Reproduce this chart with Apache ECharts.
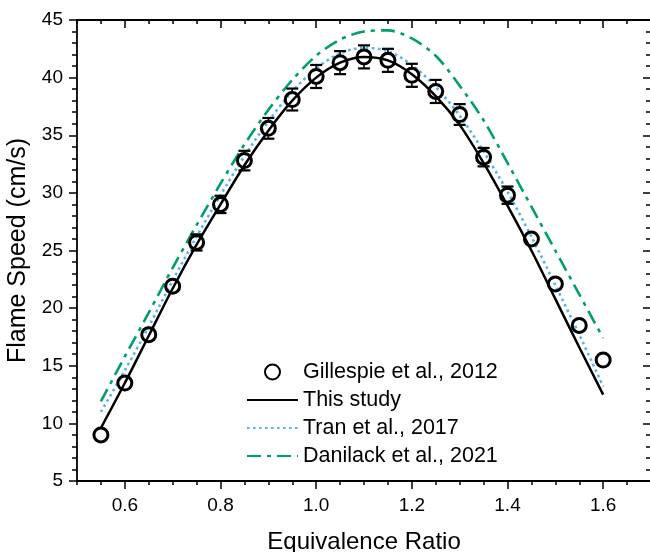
<!DOCTYPE html>
<html>
<head>
<meta charset="utf-8">
<script src="https://cdn.jsdelivr.net/npm/echarts@6/dist/echarts.min.js"></script>
<style>html,body{margin:0;padding:0;background:#fff}#c{width:650px;height:552px}</style>
</head>
<body>
<div id="c"></div>
<script>
// ---- data ----
const phi = [0.55,0.60,0.65,0.70,0.75,0.80,0.85,0.90,0.95,1.00,1.05,1.10,1.15,1.20,1.25,1.30,1.35,1.40,1.45,1.50,1.55,1.60];
const gillespie = [9.0,13.5,17.7,21.9,25.7,29.0,32.8,35.6,38.1,40.1,41.3,41.8,41.5,40.2,38.8,36.8,33.1,29.8,26.0,22.1,18.5,15.5];
const gillespieErr = [0.4,0.45,0.5,0.55,0.7,0.75,0.85,0.9,0.95,1.0,1.0,1.0,1.0,1.0,1.0,0.9,0.8,0.75,0.65,0.6,0.5,0.45];
const thisStudy = [9.6,13.5,17.6,21.7,25.5,29.0,32.4,35.4,38.0,40.0,41.3,41.8,41.5,40.3,38.4,35.9,32.6,28.9,25.0,20.8,16.6,12.5];
const tran = [11.0,14.6,18.4,22.4,26.2,29.8,33.2,36.2,38.8,40.8,42.1,42.6,42.3,41.1,39.2,36.7,33.6,30.1,26.2,22.0,17.7,13.2];
const danilack = [11.9,15.8,19.6,23.5,27.2,30.8,34.2,37.2,39.8,41.9,43.3,44.0,44.1,43.4,41.9,39.3,36.3,32.6,28.8,25.0,21.2,17.4];
const xMajorTicks = [0.6,0.8,1.0,1.2,1.4,1.6];
const seriesNames = ['Gillespie et al., 2012','This study','Tran et al., 2017','Danilack et al., 2021'];

const FONT = '"Liberation Sans", Arial, Helvetica, sans-serif';
const pair = ys => phi.map((x, i) => [x, ys[i]]);
const axLine = {show: true, lineStyle: {color: '#000', width: 1.8}};
const tickStyle = {color: '#000', width: 1.5};

function xAx(pos, major, withLine, inside) {
  const a = {
    type: 'value', position: pos, min: 0.5, max: 1.7,
    axisLine: withLine ? axLine : {show: false},
    splitLine: {show: false},
    axisLabel: {show: false},
    axisTick: {show: true, inside: inside, length: major ? 8 : 4, lineStyle: tickStyle}
  };
  if (major) { a.axisTick.customValues = xMajorTicks; }
  else { a.interval = 0.05; }
  return a;
}

const xb = xAx('bottom', false, true, false);
xb.axisLabel = {show: true, customValues: xMajorTicks, formatter: v => v.toFixed(1),
  fontSize: 19, color: '#000', fontFamily: FONT, margin: 15};
xb.name = 'Equivalence Ratio';
xb.nameLocation = 'middle';
xb.nameGap = 49;
xb.nameTextStyle = {fontSize: 24, color: '#000', fontFamily: FONT};

const hiddenDot = {color: 'rgba(0,0,0,0)', borderWidth: 0, opacity: 0};

const option = {
  animation: false,
  backgroundColor: '#fff',
  grid: {left: 77, top: 20, right: -1, bottom: 71, containLabel: false, outerBoundsMode: 'none'},
  xAxis: [xb, xAx('bottom', true, false, false), xAx('top', false, true, true), xAx('top', true, false, true)],
  yAxis: [
    {type: 'value', position: 'left', min: 5, max: 45, interval: 5,
     axisLine: axLine, splitLine: {show: false},
     axisTick: {show: true, inside: false, length: 8, lineStyle: tickStyle},
     minorTick: {show: true, splitNumber: 5, length: 5, lineStyle: tickStyle},
     axisLabel: {fontSize: 19, color: '#000', fontFamily: FONT, margin: 14},
     name: 'Flame Speed (cm/s)', nameLocation: 'middle', nameGap: 43, nameRotate: 90,
     nameTextStyle: {fontSize: 25, color: '#000', fontFamily: FONT}},
    {type: 'value', position: 'right', min: 5, max: 45, interval: 5,
     axisLine: axLine, splitLine: {show: false},
     axisTick: {show: true, inside: true, length: 8, lineStyle: tickStyle},
     minorTick: {show: true, splitNumber: 5, length: 5, lineStyle: tickStyle},
     axisLabel: {show: false}}
  ],
  legend: {
    data: [
      {name: seriesNames[0]},
      {name: seriesNames[1], itemStyle: hiddenDot},
      {name: seriesNames[2], itemStyle: hiddenDot},
      {name: seriesNames[3], itemStyle: hiddenDot}
    ],
    orient: 'vertical', left: 241, top: 356,
    itemWidth: 51, itemHeight: 15, itemGap: 6,
    textStyle: {fontSize: 21.5, color: '#000', fontFamily: FONT, lineHeight: 21}
  },
  series: [
    {name: seriesNames[1], type: 'line', symbol: 'none', smooth: 0.3, data: pair(thisStudy),
     lineStyle: {color: '#000', width: 2.5}, itemStyle: {color: '#000'}, z: 3},
    {name: seriesNames[2], type: 'line', symbol: 'none', smooth: 0.3, data: pair(tran),
     lineStyle: {color: '#56B4E9', width: 2.6, type: [2.6, 3.4]}, itemStyle: {color: '#56B4E9'}, z: 2},
    {name: seriesNames[3], type: 'line', symbol: 'none', smooth: 0.3, data: pair(danilack),
     lineStyle: {color: '#009E73', width: 2.6, type: [14, 6, 4, 6]}, itemStyle: {color: '#009E73'}, z: 2},
    {name: 'errbars', type: 'custom', z: 4, silent: true,
     data: phi.map((x, i) => [x, gillespie[i], gillespieErr[i]]),
     renderItem: function (params, api) {
       const x = api.value(0), y = api.value(1), e = api.value(2);
       const c = api.coord([x, y]);
       const t = api.coord([x, y + e]);
       const b = api.coord([x, y - e]);
       const r = 8, hw = 6;
       const st = {stroke: '#000', lineWidth: 1.6};
       const cap = {stroke: '#000', lineWidth: 2.2};
       const ch = [];
       if (c[1] - t[1] > r - 0.5) {
         ch.push({type: 'line', shape: {x1: c[0], y1: t[1], x2: c[0], y2: c[1] - r}, style: st});
         ch.push({type: 'line', shape: {x1: c[0] - hw, y1: t[1], x2: c[0] + hw, y2: t[1]}, style: cap});
       }
       if (b[1] - c[1] > r - 0.5) {
         ch.push({type: 'line', shape: {x1: c[0], y1: c[1] + r, x2: c[0], y2: b[1]}, style: st});
         ch.push({type: 'line', shape: {x1: c[0] - hw, y1: b[1], x2: c[0] + hw, y2: b[1]}, style: cap});
       }
       return {type: 'group', children: ch};
     }},
    {name: seriesNames[0], type: 'scatter', symbol: 'circle', symbolSize: 14, z: 5,
     data: pair(gillespie),
     itemStyle: {color: 'rgba(255,255,255,0)', borderColor: '#000', borderWidth: 3, opacity: 1}}
  ]
};

const chart = echarts.init(document.getElementById('c'), null, {renderer: 'canvas'});
chart.setOption(option);
</script>
</body>
</html>
